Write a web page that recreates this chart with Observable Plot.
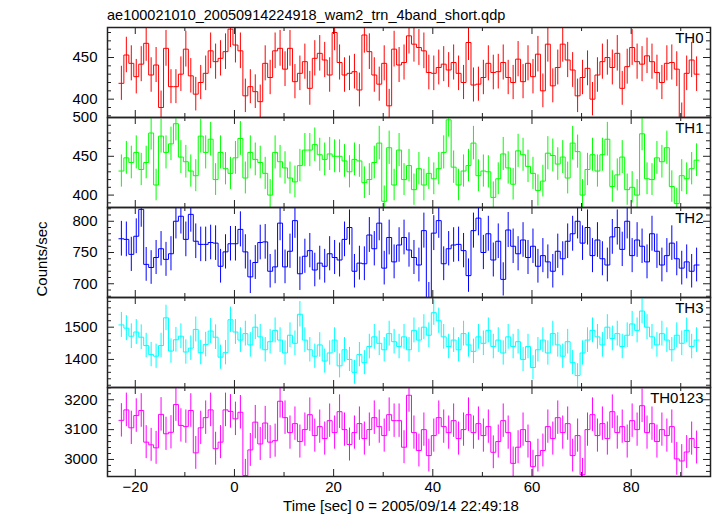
<!DOCTYPE html>
<html><head><meta charset="utf-8">
<script src="https://cdn.jsdelivr.net/npm/d3@7"></script>
<script src="https://cdn.jsdelivr.net/npm/@observablehq/plot@0.6"></script>
<style>
body{margin:0;background:#fff;}
#chart{position:relative;width:717px;height:516px;font-family:"Liberation Sans",Arial,Helvetica,sans-serif;overflow:hidden;}
#chart svg{position:absolute;left:0;overflow:visible;}
</style></head><body><div id="chart"></div>
<script>
// ---- data (1-s bins, counts/sec) ----
const firstBinStart = -23.3;   // seconds, left edge of first bin
const binWidth = 1;
const titleText = "ae100021010_20050914224918_wam2_trn_4band_short.qdp";
const xLabelText = "Time [sec] 0 = 2005/09/14 22:49:18";
const yLabelText = "Counts/sec";
const bandNames = ["TH0","TH1","TH2","TH3","TH0123"];
const xTickLabels = [-20,0,20,40,60,80];

const th0 = [419,453,443,427,442,467,429,441,390,461,415,415,430,460,428,406,420,431,458,445,449,457,484,465,458,404,415,409,397,443,426,458,461,436,461,421,431,445,413,449,455,447,429,480,444,429,431,433,411,477,457,429,418,443,392,460,441,444,476,466,462,458,432,431,438,442,435,444,431,420,468,417,418,426,443,432,433,444,426,420,448,421,443,427,454,410,466,416,438,466,447,435,404,426,437,400,429,445,450,438,455,413,439,462,445,442,452,445,432,420,443,444,436,376,431,447,430];
const th1 = [431,448,442,455,433,442,480,413,476,455,466,492,449,443,431,425,476,455,472,420,455,434,428,448,473,422,455,446,442,428,400,455,443,435,422,417,438,458,458,465,452,446,453,450,450,444,430,446,444,416,420,442,467,392,461,413,458,420,438,407,434,413,428,421,434,455,497,436,413,431,438,467,425,431,430,397,421,453,435,414,457,452,437,428,406,418,454,451,440,449,422,467,456,400,433,452,431,452,472,411,426,449,407,410,400,479,421,420,448,443,461,411,389,425,421,434,445];
const th2 = [772,771,747,776,819,731,726,742,756,739,748,800,808,771,811,768,763,763,766,765,728,751,764,764,787,751,711,734,766,767,720,727,797,727,752,801,716,744,753,722,733,728,748,742,738,771,790,720,733,732,778,756,797,725,774,735,762,774,754,742,730,785,676,781,801,732,756,762,763,753,713,785,805,750,780,738,768,707,786,760,748,770,742,760,728,745,735,720,752,740,768,780,800,765,790,745,770,740,730,775,790,755,800,745,770,760,735,780,752,730,745,765,740,725,735,720,730];
const th3 = [1507,1497,1472,1485,1469,1443,1415,1410,1443,1529,1426,1461,1472,1423,1435,1493,1421,1446,1488,1469,1407,1421,1523,1485,1460,1480,1445,1500,1470,1430,1455,1490,1460,1420,1475,1450,1540,1460,1430,1410,1445,1395,1420,1460,1380,1430,1400,1360,1415,1390,1440,1470,1450,1430,1480,1455,1440,1470,1430,1490,1460,1500,1475,1545,1520,1470,1440,1460,1430,1480,1445,1425,1470,1450,1490,1440,1460,1420,1470,1440,1455,1400,1440,1375,1430,1460,1420,1480,1445,1410,1455,1390,1350,1420,1460,1490,1470,1445,1500,1465,1480,1440,1475,1510,1490,1550,1500,1470,1445,1480,1460,1430,1475,1450,1490,1440,1460];
const th0123 = [3131,3166,3106,3147,3164,3058,3049,3039,3151,3086,3091,3184,3114,3110,3164,3022,3106,3140,3166,3036,3058,3166,3161,3136,3158,2946,3032,3125,3052,3122,3058,3063,3195,3140,3090,3120,3060,3100,3150,3080,3110,3070,3130,3090,3160,3100,3050,3090,3120,3070,3100,3140,3110,3080,3150,3130,3130,3041,3215,3090,3030,3100,3013,3080,3140,3110,3090,3130,3070,3100,3150,3090,3120,3080,3110,3024,3060,3130,3090,2987,3041,3100,3060,2976,3013,3030,3110,3070,3140,3090,3120,3013,3080,2949,3100,3150,3080,3120,3070,3160,3090,3110,3060,3130,3100,3180,3090,3120,3060,3100,3080,3110,3002,2995,3025,3070,3040];

const series = [th0, th1, th2, th3, th0123];
const colors = ["#ff0000","#00ff00","#0000ff","#00ffff","#ff00ff"];
const yDomains = [[378,486],[384,500],[678,822],[1313,1592],[2943,3241]];
const yLabelTicks = [[400,450],[400,450,500],[700,750,800],[1400,1500],[3000,3100,3200]];
const yMinorStep = [10,10,10,20,20];
const yMajorStep = [50,50,50,100,100];

// ---- layout ----
const W = 717, ML = 107, MR = 7, FW = W - ML - MR;
const tops = [27,117,207,297,387], bottomEdge = 476;
const xDomain = [-25.6, 96];
const font = "'Liberation Sans', Arial, Helvetica, sans-serif";
const chart = document.getElementById("chart");
const frameColor = "#222";

series.forEach((vals, i) => {
  const last = i === series.length - 1;
  const h = (last ? bottomEdge : tops[i+1]) - tops[i];
  const rows = vals.map((v, k) => {
    const a = firstBinStart + k*binWidth, b = a + binWidth;
    const e = Math.sqrt(v*binWidth)/binWidth;
    return {a, b, c:(a+b)/2, v, lo:v-e, hi:v+e};
  });
  const steps = rows.flatMap(r => [{x:r.a, y:r.v},{x:r.b, y:r.v}]);
  const xMajor = d3.range(-20, 81, 20);
  const xMinor = d3.range(-10, 91, 20);
  const [y0, y1] = yDomains[i];
  const yAll = d3.range(Math.ceil(y0/yMinorStep[i])*yMinorStep[i], y1, yMinorStep[i]);
  const yMaj = yAll.filter(d => d % yMajorStep[i] === 0);
  const yMin = yAll.filter(d => d % yMajorStep[i] !== 0);
  const MB = last ? 40 : 0;
  const marks = [
    Plot.ruleX(rows, {x:"c", y1:"lo", y2:"hi", stroke:colors[i], strokeWidth:1, clip:true}),
    Plot.line(steps, {x:"x", y:"y", stroke:colors[i], strokeWidth:1, clip:true}),
    Plot.ruleX(xMajor, {insetBottom:h-7, stroke:frameColor}),
    Plot.ruleX(xMajor, {insetTop:h-7, stroke:frameColor}),
    Plot.ruleX(xMinor, {insetBottom:h-4, stroke:frameColor}),
    Plot.ruleX(xMinor, {insetTop:h-4, stroke:frameColor}),
    Plot.ruleY(yMaj, {insetRight:FW-7, stroke:frameColor}),
    Plot.ruleY(yMaj, {insetLeft:FW-7, stroke:frameColor}),
    Plot.ruleY(yMin, {insetRight:FW-4, stroke:frameColor}),
    Plot.ruleY(yMin, {insetLeft:FW-4, stroke:frameColor}),
    Plot.frame({stroke:frameColor, strokeWidth:1.5}),
    Plot.text(yLabelTicks[i], {y:d=>d, text:d=>String(d), frameAnchor:"left", textAnchor:"end", dx:-10, fontSize:15, fill:"#000"}),
    Plot.text([bandNames[i]], {text:d=>d, frameAnchor:"top-right", textAnchor:"end", lineAnchor:"top", dx:-7, dy:5, fontSize:15, fill:"#000"})
  ];
  if (last) {
    marks.push(Plot.text(xTickLabels, {x:d=>d, text:d=>d<0?"\u2212"+Math.abs(d):String(d), frameAnchor:"bottom", lineAnchor:"top", dy:5, fontSize:15, fill:"#000"}));
  }
  const svg = Plot.plot({
    width: W, height: h + MB,
    marginLeft: ML, marginRight: MR, marginTop: 0, marginBottom: MB,
    x: {domain: xDomain, axis: null},
    y: {domain: yDomains[i], axis: null},
    style: {fontFamily: font, fontSize: "15px", color: "#000", background: "transparent", overflow: "visible"},
    marks
  });
  svg.style.top = tops[i] + "px";
  chart.appendChild(svg);
});

// overlay text: title and axis labels
const ns = "http://www.w3.org/2000/svg";
const ov = document.createElementNS(ns, "svg");
ov.setAttribute("width", W); ov.setAttribute("height", 516);
ov.style.top = "0px";
ov.style.fontFamily = font;
function addText(str, x, y, size, anchor, rot) {
  const t = document.createElementNS(ns, "text");
  t.textContent = str;
  t.setAttribute("x", x); t.setAttribute("y", y);
  t.setAttribute("font-size", size);
  t.setAttribute("text-anchor", anchor);
  t.setAttribute("fill", "#000");
  if (rot) t.setAttribute("transform", `rotate(${rot} ${x} ${y})`);
  ov.appendChild(t);
}
addText(titleText, ML, 20, 14.5, "start");
addText(xLabelText, 401, 511, 15, "middle");
addText(yLabelText, 47, 259, 15, "middle", -90);
chart.appendChild(ov);
</script>
</body></html>
